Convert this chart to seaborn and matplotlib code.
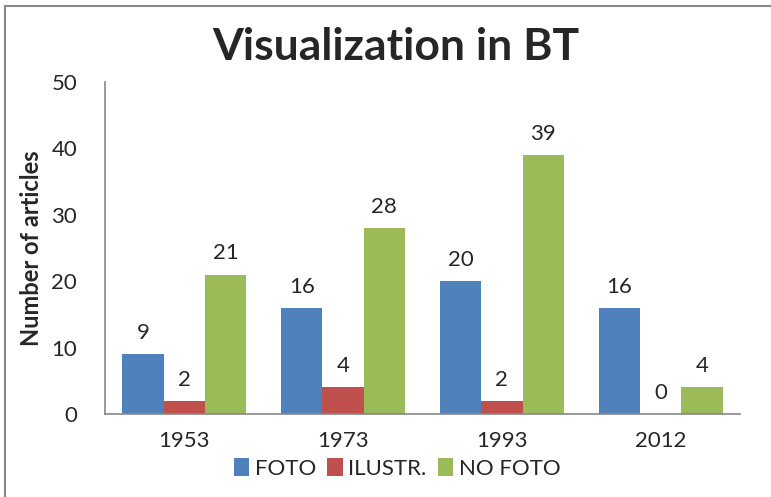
import pandas as pd
import matplotlib.pyplot as plt
import seaborn as sns
from matplotlib.patches import Rectangle

years = ["1953", "1973", "1993", "2012"]
foto = [9, 16, 20, 16]
ilustr = [2, 4, 2, 0]
no_foto = [21, 28, 39, 4]
series = ["FOTO", "ILUSTR.", "NO FOTO"]
colors = ["#4F81BD", "#C0504D", "#9BBB59"]

df = pd.DataFrame({
    "Year": years * 3,
    "Type": [s for s in series for _ in years],
    "Count": foto + ilustr + no_foto,
})

sns.set_style("white")
plt.rcParams['font.family'] = ['Lato', 'DejaVu Sans']

fig = plt.figure(figsize=(7.71, 4.97), dpi=100)
ax = fig.add_axes([0.136, 0.167, 0.824, 0.668])

sns.barplot(data=df, x="Year", y="Count", hue="Type", palette=colors,
            width=0.78, saturation=1, linewidth=0, ax=ax)

for c in ax.containers:
    ax.bar_label(c, padding=8, fontsize=16)

ax.set_ylim(0, 50)
ax.set_yticks(range(0, 51, 10))
ax.set_xlabel("")
ax.set_ylabel("Number of articles", fontsize=17, fontweight="bold")
ax.yaxis.set_label_coords(-0.098, 0.5)
ax.tick_params(axis="both", length=0, labelsize=16)
ax.tick_params(axis="x", pad=12)
ax.tick_params(axis="y", pad=20)
sns.despine(ax=ax)
for s in ["left", "bottom"]:
    ax.spines[s].set_color("#888888")
    ax.spines[s].set_linewidth(1.2)

ax.legend(loc="upper center", bbox_to_anchor=(0.46, -0.105), ncol=3, frameon=False,
          fontsize=16, handlelength=0.7, handleheight=0.9, handletextpad=0.25,
          columnspacing=0.5, borderaxespad=0)

fig.text(0.513, 0.905, "Visualization in BT", ha="center", va="center",
         fontsize=32, fontweight="bold")

fig.patches.append(Rectangle((5 / 771, -0.1), 1.2, 1 - 6 / 497 + 0.1,
                             transform=fig.transFigure, fill=False,
                             edgecolor="#888888", linewidth=1.5))

fig.savefig("out.png", dpi=100)
